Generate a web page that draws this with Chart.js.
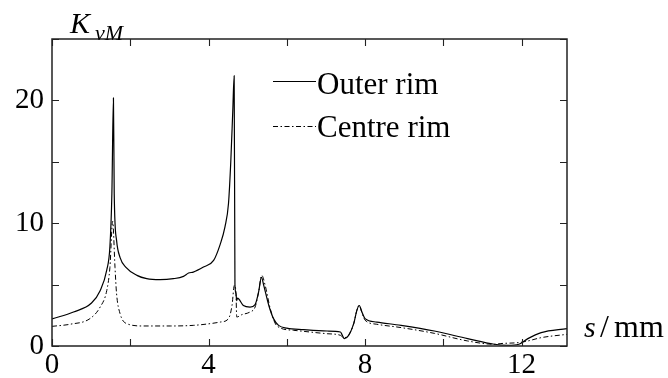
<!DOCTYPE html>
<html>
<head>
<meta charset="utf-8">
<script src="https://cdn.jsdelivr.net/npm/chart.js@4/dist/chart.umd.min.js"></script>
<style>
  html, body { margin: 0; padding: 0; background: #fff; }
  #wrap { width: 668px; height: 378px; }
</style>
</head>
<body>
<div id="wrap"><canvas id="chart" width="668" height="378"></canvas></div>
<script>
// Outer rim (solid)
const sOuter = [0, 0.55, 1.01, 1.23, 1.40, 1.48, 1.53, 1.57, 1.59, 1.65, 1.74, 1.89, 2.17, 2.42, 2.76, 3.10,
  3.36, 3.49, 3.61, 3.87, 4.13, 4.30, 4.42, 4.51, 4.57, 4.62, 4.655, 4.675, 4.70, 4.72, 4.74, 4.89,
  5.06, 5.19, 5.28, 5.35, 5.41, 5.54, 5.66, 5.79, 6.0, 6.43, 7.03, 7.37, 7.41, 7.47, 7.58, 7.71,
  7.79, 7.85, 7.92, 8.0, 8.3, 8.92, 9.77, 10.62, 11.30, 11.65, 11.93, 12.16, 12.5, 13.16];
const kOuter = [2.2, 2.77, 3.5, 4.5, 6.2, 8.1, 12.4, 20.2, 12.4, 8.6, 7.2, 6.4, 5.75, 5.48, 5.4, 5.48,
  5.67, 5.94, 6.02, 6.43, 6.97, 8.3, 9.7, 11.6, 15.1, 19.2, 22.0, 5.0, 4.3, 3.7, 3.9, 3.3,
  3.17, 3.37, 4.4, 5.6, 4.94, 3.3, 2.23, 1.68, 1.45, 1.33, 1.22, 1.14, 0.93, 0.6, 0.87, 1.82,
  2.9, 3.3, 2.77, 2.23, 1.95, 1.68, 1.22, 0.6, 0.14, 0.06, 0.14, 0.6, 1.09, 1.42];

// Centre rim (dash-dot)
const sCentre = [0, 0.46, 0.97, 1.23, 1.40, 1.48, 1.55, 1.61, 1.65, 1.74, 1.91, 2.33, 3.02, 3.61, 4.04, 4.30,
  4.51, 4.60, 4.66, 4.70, 4.72, 4.85, 5.06, 5.19, 5.28, 5.36, 5.45, 5.58, 5.75, 6.17, 7.03, 7.37,
  7.45, 7.58, 7.71, 7.79, 7.85, 7.92, 8.0, 8.3, 8.92, 9.77, 10.62, 11.30, 11.47, 11.93, 12.16, 12.5, 13.16];
const kCentre = [1.6, 1.77, 2.23, 3.17, 4.53, 6.4, 10.15, 6.4, 4.26, 2.63, 1.82, 1.63, 1.63, 1.68, 1.82, 1.95,
  2.23, 3.3, 4.94, 4.4, 2.36, 2.55, 2.77, 3.17, 4.4, 5.75, 4.9, 3.0, 1.63, 1.28, 1.0, 0.87,
  0.68, 0.87, 1.82, 2.9, 3.3, 2.7, 2.1, 1.77, 1.5, 1.03, 0.41, 0.14, 0.2, 0.28, 0.41, 0.68, 0.95];

const seriesLabels = ['Outer rim', 'Centre rim'];
const xLabelTicks = [0, 4, 8, 12];
const yLabelTicks = [0, 10, 20];

const SERIF = '"Liberation Serif", "Times New Roman", serif';
const pts = (xs, ys) => xs.map((s, i) => ({ x: s, y: ys[i] }));

// Frame, inward ticks, legend and axis titles
const decor = {
  id: 'decor',
  afterDraw(chart) {
    const { ctx, chartArea: a, scales: { x, y } } = chart;
    ctx.save();
    ctx.strokeStyle = '#222';
    ctx.lineWidth = 1.5;
    ctx.strokeRect(a.left, a.top, a.right - a.left, a.bottom - a.top);

    const TL = 7;
    ctx.lineWidth = 1.1;
    ctx.beginPath();
    x.ticks.forEach(t => {
      const px = Math.round(x.getPixelForValue(t.value)) + 0.5;
      ctx.moveTo(px, a.bottom); ctx.lineTo(px, a.bottom - TL);
      ctx.moveTo(px, a.top); ctx.lineTo(px, a.top + TL);
    });
    y.ticks.forEach(t => {
      const py = Math.round(y.getPixelForValue(t.value)) + 0.5;
      ctx.moveTo(a.left, py); ctx.lineTo(a.left + TL, py);
      ctx.moveTo(a.right, py); ctx.lineTo(a.right - TL, py);
    });
    ctx.stroke();

    // legend
    const rows = [{ y: 81, base: 94 }, { y: 126, base: 137 }];
    chart.data.datasets.forEach((ds, i) => {
      ctx.strokeStyle = ds.borderColor;
      ctx.lineWidth = ds.borderWidth;
      ctx.setLineDash(ds.borderDash || []);
      ctx.beginPath();
      ctx.moveTo(273, rows[i].y + 0.5);
      ctx.lineTo(316, rows[i].y + 0.5);
      ctx.stroke();
      ctx.setLineDash([]);
      ctx.fillStyle = '#000';
      ctx.font = '31px ' + SERIF;
      ctx.textBaseline = 'alphabetic';
      ctx.textAlign = 'left';
      ctx.fillText(ds.label, 317, rows[i].base);
    });

    // y title K_vM
    ctx.fillStyle = '#000';
    ctx.font = 'italic 30px ' + SERIF;
    ctx.fillText('K', 70, 33);
    ctx.font = 'italic 22px ' + SERIF;
    ctx.fillText('vM', 95, 40);

    // x title s/mm
    ctx.font = 'italic 30px ' + SERIF;
    ctx.fillText('s', 584, 337);
    ctx.font = '32px ' + SERIF;
    ctx.fillText('/', 600, 337);
    ctx.fillText('mm', 614, 337);
    ctx.restore();
  }
};

new Chart(document.getElementById('chart'), {
  type: 'line',
  data: {
    datasets: [
      {
        label: seriesLabels[0],
        data: pts(sOuter, kOuter),
        borderColor: '#000',
        borderWidth: 1.2,
        pointRadius: 0,
        cubicInterpolationMode: 'monotone',
        fill: false
      },
      {
        label: seriesLabels[1],
        data: pts(sCentre, kCentre),
        borderColor: '#000',
        borderWidth: 1,
        borderDash: [5, 2.5, 1.5, 2.5],
        pointRadius: 0,
        cubicInterpolationMode: 'monotone',
        fill: false
      }
    ]
  },
  options: {
    responsive: false,
    animation: false,
    devicePixelRatio: 1,
    layout: { padding: { top: 39, right: 101, left: 0, bottom: 0 } },
    plugins: { legend: { display: false }, tooltip: { enabled: false } },
    scales: {
      x: {
        type: 'linear',
        min: 0,
        max: 13.16,
        grid: { display: false, drawTicks: false },
        border: { display: false },
        ticks: {
          stepSize: 2,
          includeBounds: false,
          autoSkip: false,
          maxRotation: 0,
          padding: 2,
          color: '#000',
          font: { family: SERIF, size: 29 },
          callback: v => xLabelTicks.includes(v) ? String(v) : ''
        },
        afterFit: s => { s.height = 32; }
      },
      y: {
        type: 'linear',
        min: 0,
        max: 25,
        grid: { display: false, drawTicks: false },
        border: { display: false },
        ticks: {
          stepSize: 5,
          includeBounds: false,
          autoSkip: false,
          padding: 8,
          color: '#000',
          font: { family: SERIF, size: 29 },
          callback: v => yLabelTicks.includes(v) ? String(v) : ''
        },
        afterFit: s => { s.width = 52; }
      }
    }
  },
  plugins: [decor]
});
</script>
</body>
</html>
